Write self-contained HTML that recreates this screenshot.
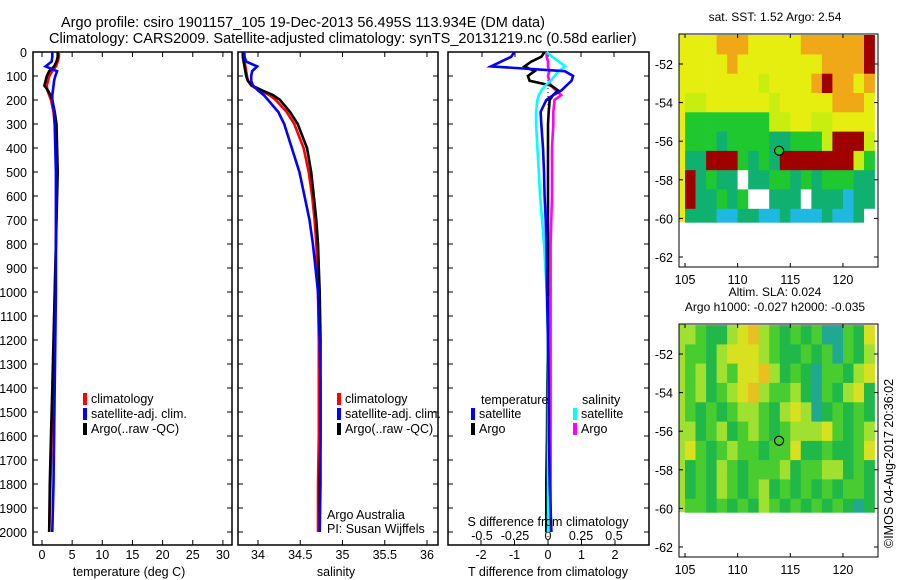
<!DOCTYPE html>
<html><head><meta charset="utf-8">
<style>
html,body{margin:0;padding:0;background:#fff;}
svg{display:block;font-family:"Liberation Sans",sans-serif;}
</style></head>
<body>
<svg id="chart" width="900" height="580" viewBox="0 0 900 580" xmlns="http://www.w3.org/2000/svg">
<text x="61" y="27" font-size="14.5">Argo profile: csiro 1901157_105 19-Dec-2013 56.495S 113.934E (DM data)</text>
<text x="49" y="43" font-size="14.5">Climatology: CARS2009. Satellite-adjusted climatology: synTS_20131219.nc (0.58d earlier)</text>
<g id="g"></g>
</svg>
<script>
// ---- data ----
const depths = [0,20,40,60,80,100,120,140,160,180,200,250,300,400,500,600,700,800,900,1000,1200,1400,1600,1800,2000];
const depthTicks = [0,100,200,300,400,500,600,700,800,900,1000,1100,1200,1300,1400,1500,1600,1700,1800,1900,2000];
const tempArgo = [2.6,2.6,2.4,2.0,1.2,0.8,0.6,0.4,1.0,1.4,1.7,2.1,2.4,2.5,2.6,2.5,2.4,2.3,2.2,2.1,1.9,1.7,1.5,1.3,1.2];
const tempClim = [2.8,2.8,2.6,2.3,1.7,1.2,1.0,0.8,0.9,1.2,1.5,1.9,2.1,2.3,2.4,2.4,2.35,2.3,2.25,2.2,2.0,1.8,1.6,1.4,1.2];
const tempSat  = [1.7,1.7,1.6,0.6,2.5,2.2,2.0,1.9,1.8,1.7,1.7,2.0,2.1,2.2,2.3,2.3,2.3,2.3,2.3,2.3,2.2,2.1,2.0,1.9,1.7];
const tempTicks = [0,5,10,15,20,25,30];
const salArgo = [33.82,33.82,33.83,33.84,33.85,33.86,33.88,33.93,34.05,34.18,34.26,34.38,34.47,34.58,34.63,34.66,34.69,34.71,34.72,34.73,34.74,34.74,34.74,34.73,34.73];
const salClim = [33.84,33.84,33.84,33.85,33.86,33.87,33.88,33.92,34.02,34.14,34.21,34.34,34.43,34.54,34.60,34.64,34.67,34.69,34.70,34.71,34.72,34.72,34.72,34.71,34.71];
const salSat  = [33.83,33.84,33.86,33.99,33.93,33.92,33.92,33.94,34.0,34.07,34.12,34.24,34.31,34.40,34.49,34.55,34.61,34.65,34.68,34.71,34.73,34.74,34.74,34.74,34.73];
const salTicks = [34,34.5,35,35.5,36];
const tDiffSat  = [-1.0,-1.1,-1.4,-1.7,0.5,0.75,0.7,0.55,0.4,0.15,-0.05,-0.22,-0.2,-0.15,-0.12,-0.1,-0.07,-0.05,-0.04,-0.03,0.0,0.02,0.03,0.05,0.1];
const tDiffArgo = [-0.1,-0.2,-0.5,-0.7,-0.4,-0.6,-0.55,0.1,0.3,0.15,0.05,0.02,0.0,0.0,0.0,0.0,0.0,0.0,0.0,0.0,0.0,-0.02,-0.03,-0.05,-0.05];
const sDiffSat  = [-0.01,0.03,0.08,0.13,0.08,0.05,0.02,-0.02,-0.05,-0.07,-0.08,-0.09,-0.09,-0.08,-0.07,-0.06,-0.045,-0.03,-0.02,-0.01,0,0,0,0,0];
const sDiffArgo = [-0.01,-0.01,0.0,0.0,0.01,0.0,0.01,0.02,0.06,0.10,0.05,0.04,0.04,0.03,0.03,0.03,0.025,0.02,0.02,0.02,0.02,0.02,0.02,0.02,0.02];
const tDiffTicks = [-2,-1,0,1,2];
const sDiffTicks = [-0.5,-0.25,0,0.25,0.5];
const sDiffTickLabels = ["-0.5","-0.25","0","0.25","0.5"];
const lonTicks = [105,110,115,120];
const latTicks = [-52,-54,-56,-58,-60,-62];
const sstRows = [
"yyyoooyyyyyoooooor",
"yyyyoyyyyyyyyoooor",
"yyyyyyyYyyyyorooyo",
"YYyyyyyyYyyyyyoooy",
"ggggggggYYyyYYyyyy",
"gggtggggttgggYrrrY",
"ttrrrgtgtrrrrrrrYg",
"rtgttwttggtgtgggtt",
"rttgtgwwtttwtttctt",
"tttccttcctccctcctw"];
const slaRows = [
"lgddlyolgdgdgttgdy",
"ggdlyyylgddgdgtgdl",
"gldlgyyoldgdtggdly",
"gldglyolggldtgdlyd",
"gdgdgllgdlyltdgdgd",
"ldgldglgdglllygdgl",
"ygdglggdggyddgddgy",
"dgdlgdgggldgglldgd",
"dgdlgdgldgdgdgdggd",
"ggdgdgdlgdgdgdgdtd"];
const argoLon = 113.934, argoLat = -56.495;

// ---- helpers ----
const NS="http://www.w3.org/2000/svg";
const G=document.getElementById('g');
function mk(tag,attrs,parent){const e=document.createElementNS(NS,tag);for(const k in attrs)e.setAttribute(k,attrs[k]);(parent||G).appendChild(e);return e;}
function txt(x,y,s,size,anchor,parent){const t=mk('text',{x:x,y:y,'font-size':size||13,'text-anchor':anchor||'start'},parent);t.textContent=s;return t;}
const PT=52, PB=545;
const yD=d=>PT+d*0.24;
const xT=v=>42+v*6.03;
const xS=v=>258+(v-34)*84.5;
const xTd=v=>548+v*33.5;
const xSd=v=>548+v*132;

function frame(x0,x1,name){
  const r=mk('rect',{x:x0,y:PT,width:x1-x0,height:PB-PT,fill:'none',stroke:'#000','stroke-width':1.5});
  
  
  depthTicks.forEach(d=>{mk('line',{x1:x0,x2:x0+5,y1:yD(d),y2:yD(d),stroke:'#000'});mk('line',{x1:x1,x2:x1-5,y1:yD(d),y2:yD(d),stroke:'#000'});});
}
function line(xs,xf,color,name,w){
  const pts=depths.map((d,i)=>xf(xs[i]).toFixed(1)+','+yD(d).toFixed(1)).join(' ');
  const p=mk('polyline',{points:pts,fill:'none',stroke:color,'stroke-width':w||2.6,'stroke-linejoin':'miter'});
  
  
}
function xticks(ticks,xf,x0,x1,labels,ly){
  ticks.forEach((v,i)=>{const x=xf(v);mk('line',{x1:x,x2:x,y1:PT,y2:PT+5,stroke:'#000'});mk('line',{x1:x,x2:x,y1:PB,y2:PB-5,stroke:'#000'});
    const t=txt(x,ly,labels?labels[i]:String(v),12.5,'middle');
    
    });
}
function legend(x,y,items){
  items.forEach((it,i)=>{mk('rect',{x:x,y:y+i*15-10,width:4,height:12,fill:it[1]});
    const t=txt(x+8,y+i*15,it[0],12.5);
    
    });
}

depthTicks.forEach(d=>{const t=txt(27,yD(d)+5,String(d),12.5,'end');
  
  });

// panel 1 temperature
frame(33,232,'temperature-panel');
xticks(tempTicks,xT,33,232,null,559);
line(tempClim,xT,'#f00','temp-climatology-line');
line(tempArgo,xT,'#000','temp-argo-line');
line(tempSat,xT,'#00f','temp-satellite-line');
legend(83,403,[['climatology','#f00'],['satellite-adj. clim.','#00f'],['Argo(..raw -QC)','#000']]);
let t=txt(129,576,'temperature (deg C)',12.5,'middle');



// panel 2 salinity
frame(238,438,'salinity-panel');
xticks(salTicks,xS,238,438,null,559);
line(salClim,xS,'#f00','sal-climatology-line');
line(salArgo,xS,'#000','sal-argo-line');
line(salSat,xS,'#00f','sal-satellite-line');
legend(337,403,[['climatology','#f00'],['satellite-adj. clim.','#00f'],['Argo(..raw -QC)','#000']]);
t=txt(327,519,'Argo Australia',12.5);
t=txt(327,533,'PI: Susan Wijffels',12.5);
t=txt(336,576,'salinity',12.5,'middle');



// panel 3 differences
frame(448,649,'difference-panel');
tDiffTicks.forEach(v=>{const x=xTd(v);mk('line',{x1:x,x2:x,y1:PB,y2:PB-5,stroke:'#000'});
  const l=txt(x,559,String(v),12.5,'middle');});
sDiffTicks.forEach((v,i)=>{const x=xSd(v);mk('line',{x1:x,x2:x,y1:PT,y2:PT+5,stroke:'#000'});
  const l=txt(x,540,sDiffTickLabels[i],12.5,'middle');});
mk('line',{x1:xTd(0),x2:xTd(0),y1:PT,y2:PB,stroke:'#000','stroke-dasharray':'1,3'});
line(sDiffArgo,xSd,'#f0f','sdiff-argo-line');
line(tDiffArgo,xTd,'#000','tdiff-argo-line');
line(sDiffSat,xSd,'#0ff','sdiff-satellite-line');
line(tDiffSat,xTd,'#00f','tdiff-satellite-line');
t=txt(481,404,'temperature',12.5);
t=txt(582,404,'salinity',12.5);
legend(471,418,[['satellite','#00f'],['Argo','#000']]);
legend(573,418,[['satellite','#0ff'],['Argo','#f0f']]);
t=txt(548,526,'S difference from climatology',12.5,'middle');
t=txt(548,576,'T difference from climatology',12.5,'middle');

// maps
const sstCol={y:'#e6ee10',Y:'#c8ee10',o:'#f0a818',g:'#20c830',t:'#10b070',r:'#a00000',c:'#20b8e0',w:'#ffffff'};
const slaCol={g:'#48cc30',d:'#20b848',l:'#a0e030',y:'#d8e020',o:'#e8c020',t:'#20a890'};
function map(top,bot,rows,cols,title1,title2,name){
  const L=679,R=878;
  const xL=v=>685+(v-105)*10.53;
  const lat0=-52, py0=top+30;
  const yL=v=>py0+(lat0-v)*19.3;
  const grp=mk('g',{});
  
  
  rows.forEach((row,r)=>{for(let c=0;c<row.length;c++){
    const la=-50.5-r, la2=Math.max(-60.2,la-1);
    const x=xL(105+c), x2=Math.min(R,xL(106+c));
    mk('rect',{x:x.toFixed(1),y:yL(la).toFixed(1),width:(x2-x+0.4).toFixed(1),height:(yL(la2)-yL(la)+0.4).toFixed(1),fill:cols[row[c]]},grp);
  }});
  mk('rect',{x:L,y:top,width:xL(105)-L,height:yL(-60.2)-top,fill:cols[rows[0][0]]},grp);
  mk('rect',{x:L,y:top,width:R-L,height:bot-top,fill:'none',stroke:'#000'});
  lonTicks.forEach(v=>{const x=xL(v);mk('line',{x1:x,x2:x,y1:top,y2:top+4,stroke:'#000'});mk('line',{x1:x,x2:x,y1:bot,y2:bot-4,stroke:'#000'});
    const l=txt(x,bot+17,String(v),12.5,'middle');});
  latTicks.forEach(v=>{const y=yL(v);mk('line',{x1:L,x2:L+4,y1:y,y2:y,stroke:'#000'});mk('line',{x1:R,x2:R-4,y1:y,y2:y,stroke:'#000'});
    const l=txt(673,y+5,String(v),12.5,'end');});
  const m=mk('circle',{cx:xL(argoLon),cy:yL(argoLat),r:4.5,fill:cols.g,stroke:'#000','stroke-width':1.2});
  
  
  let a=txt(775,top-13-(title2?15:0),title1,12,'middle');
  if(title2){a=txt(775,top-13,title2,12,'middle');}
}
map(34,267,sstRows,sstCol,'sat. SST: 1.52 Argo: 2.54',null,'sst-map');
map(324,557,slaRows,slaCol,'Altim. SLA: 0.024','Argo h1000: -0.027 h2000: -0.035','sla-map');
t=txt(0,0,'©IMOS 04-Aug-2017 20:36:02',12.5,'start');
t.setAttribute('transform','translate(893,548) rotate(-90)');


</script>
</body></html>
